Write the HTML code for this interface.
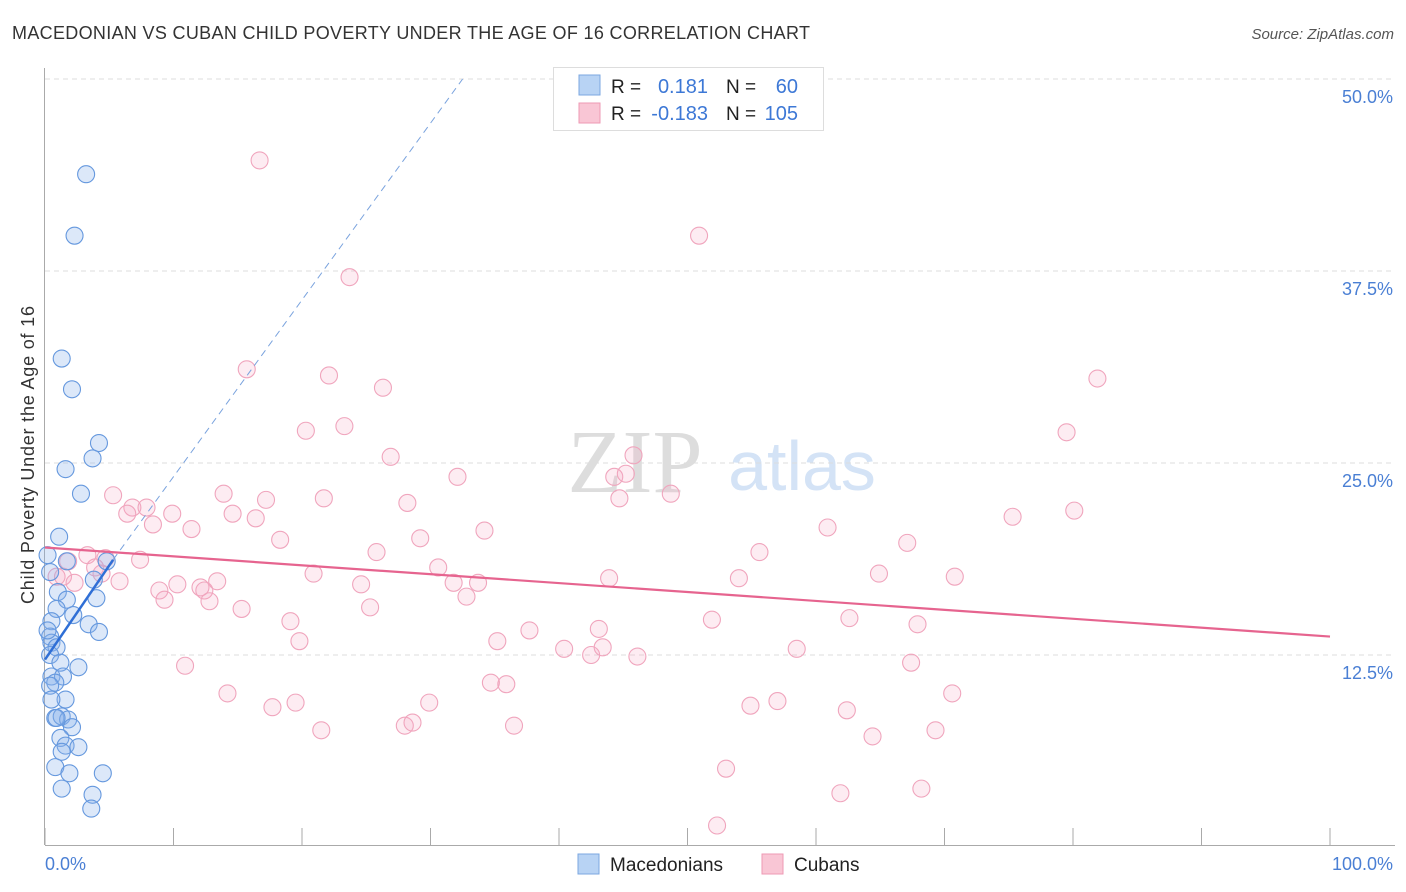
<!DOCTYPE html>
<html><head><meta charset="utf-8"><style>
body{margin:0;background:#fff;font-family:"Liberation Sans",sans-serif;}
svg{display:block}
</style></head><body>
<svg id="chart" width="1406" height="892" xmlns="http://www.w3.org/2000/svg">
<text x="12" y="39" font-size="18" fill="#333" textLength="798">MACEDONIAN VS CUBAN CHILD POVERTY UNDER THE AGE OF 16 CORRELATION CHART</text>
<text x="1394" y="39" font-size="15" fill="#555" font-style="italic" text-anchor="end">Source: ZipAtlas.com</text>
<text x="635" y="492" font-size="90" fill="#ddd" font-family="Liberation Serif,serif" text-anchor="middle">ZIP</text>
<text x="802" y="490" font-size="70" fill="#d4e3f6" text-anchor="middle">atlas</text>
<g id="grid"></g>
<g id="axes"></g>
<g id="points"></g>
<g id="trends"></g>
<text transform="translate(34,455) rotate(-90)" font-size="18" fill="#333" text-anchor="middle" textLength="298">Child Poverty Under the Age of 16</text>
<text x="45" y="870" font-size="18" fill="#4a7fd4">0.0%</text>
<text x="1393" y="870" font-size="18" fill="#4a7fd4" text-anchor="end">100.0%</text>
<g>
<rect x="553.5" y="67.5" width="270" height="63" fill="#fff" stroke="#ddd"/>
<rect x="579" y="75" width="21" height="20" fill="#b8d3f4" stroke="#7ba7e0"/>
<rect x="579" y="103" width="21" height="20" fill="#f9c6d5" stroke="#ee9ab4"/>
<text x="611" y="93" font-size="19" fill="#222">R = </text><text x="708" y="93" font-size="20" fill="#3d78d6" text-anchor="end">0.181</text>
<text x="726" y="93" font-size="19" fill="#222">N = </text><text x="798" y="93" font-size="20" fill="#3d78d6" text-anchor="end">60</text>
<text x="611" y="120" font-size="19" fill="#222">R = </text><text x="708" y="120" font-size="20" fill="#3d78d6" text-anchor="end">-0.183</text>
<text x="726" y="120" font-size="19" fill="#222">N = </text><text x="798" y="120" font-size="20" fill="#3d78d6" text-anchor="end">105</text>
</g>
<g>
<rect x="578" y="854" width="21" height="20" fill="#b8d3f4" stroke="#7ba7e0"/>
<text x="610" y="871" font-size="19" fill="#222">Macedonians</text>
<rect x="762" y="854" width="21" height="20" fill="#f9c6d5" stroke="#ee9ab4"/>
<text x="794" y="871" font-size="19" fill="#222">Cubans</text>
</g>
</svg>
<script>
const yTicks=[12.5,25,37.5,50];
const yTickLabels=["12.5%","25.0%","37.5%","50.0%"];
const xTicks=[0,10,20,30,40,50,60,70,80,90,100];
const macX=[3.2,2.3,1.3,2.1,4.2,3.7,1.6,2.8,1.1,0.2,1.7,4.8,0.4,3.8,1.0,1.7,4.0,0.9,2.2,0.5,3.4,4.2,0.4,0.5,0.9,0.4,1.2,2.6,0.5,1.4,0.8,0.4,1.6,0.5,0.8,1.3,1.8,2.1,1.2,1.6,2.6,1.3,0.8,1.9,4.5,1.3,3.7,3.6,0.9,0.2];
const macY=[43.8,39.8,31.8,29.8,26.3,25.3,24.6,23.0,20.2,19.0,18.6,18.6,17.9,17.4,16.6,16.1,16.2,15.5,15.1,14.7,14.5,14.0,13.7,13.3,13.0,12.5,12.0,11.7,11.1,11.1,10.7,10.5,9.6,9.6,8.4,8.5,8.3,7.8,7.1,6.6,6.5,6.2,5.2,4.8,4.8,3.8,3.4,2.5,8.4,14.1];
const cubX=[16.7,50.9,23.7,15.7,22.1,26.3,81.9,20.3,23.3,79.5,26.9,45.8,32.1,44.3,45.2,5.3,13.9,17.2,21.7,28.2,44.7,48.7,6.8,7.9,6.4,9.9,14.6,16.4,8.4,11.4,34.2,60.9,75.3,80.1,18.3,29.2,67.1,25.8,55.6,3.3,7.4,4.7,1.8,3.9,30.6,20.9,64.9,0.9,1.4,4.4,54.0,70.8,43.9,5.8,2.3,24.6,31.8,33.7,10.3,13.4,8.9,12.1,12.4,32.8,9.3,12.8,25.3,15.3,19.1,51.9,62.6,67.9,43.1,37.7,19.8,35.2,40.4,42.5,43.4,58.5,46.1,10.9,67.4,34.7,35.9,14.2,70.6,19.5,17.7,29.9,57.0,54.9,62.4,21.5,28.0,28.6,36.5,69.3,64.4,53.0,68.2,61.9,52.3];
const cubY=[44.7,39.8,37.1,31.1,30.7,29.9,30.5,27.1,27.4,27.0,25.4,25.5,24.1,24.1,24.3,22.9,23.0,22.6,22.7,22.4,22.7,23.0,22.1,22.1,21.7,21.7,21.7,21.4,21.0,20.7,20.6,20.8,21.5,21.9,20.0,20.1,19.8,19.2,19.2,19.0,18.7,18.8,18.6,18.2,18.2,17.8,17.8,17.6,17.6,17.8,17.5,17.6,17.5,17.3,17.2,17.1,17.2,17.2,17.1,17.3,16.7,16.9,16.7,16.3,16.1,16.0,15.6,15.5,14.7,14.8,14.9,14.5,14.2,14.1,13.4,13.4,12.9,12.5,13.0,12.9,12.4,11.8,12.0,10.7,10.6,10.0,10.0,9.4,9.1,9.4,9.5,9.2,8.9,7.6,7.9,8.1,7.9,7.6,7.2,5.1,3.8,3.5,1.4];
const macTrend=[[0,12.2],[5.3,18.7]];
const macTrendDash=[[5.3,18.7],[32.5,50]];
const cubTrend=[[0,19.5],[100,13.7]];
const NS="http://www.w3.org/2000/svg";
function sx(v){return 45+v*12.85;}
function sy(v){return 847-v*15.36;}
function mk(tag,attrs,parent){const e=document.createElementNS(NS,tag);for(const k in attrs)e.setAttribute(k,attrs[k]);parent.appendChild(e);return e;}
const grid=document.getElementById('grid'),axes=document.getElementById('axes'),pts=document.getElementById('points'),tr=document.getElementById('trends');
yTicks.forEach((t,i)=>{
 const l=mk('line',{x1:45,x2:1395,y1:sy(t),y2:sy(t),stroke:'#ddd','stroke-dasharray':'5,4'},grid);
 
 
 const tx=mk('text',{x:1393,y:sy(t)+24,'font-size':18,fill:'#4a7fd4','text-anchor':'end'},axes);
 tx.textContent=yTickLabels[i];
 
 
});
const ya=mk('line',{x1:44.5,x2:44.5,y1:68,y2:845,stroke:'#aaa'},axes);


const xa=mk('line',{x1:45,x2:1395,y1:845.5,y2:845.5,stroke:'#aaa'},axes);


xTicks.forEach(t=>{
 const l=mk('line',{x1:sx(t),x2:sx(t),y1:828,y2:845,stroke:'#aaa'},axes);
 
 
});
cubX.forEach((x,i)=>{
 const c=mk('circle',{cx:sx(x),cy:sy(cubY[i]),r:8.5,fill:'rgba(246,170,195,0.22)',stroke:'#f0a5bd','stroke-width':1.1},pts);
 
 
});
macX.forEach((x,i)=>{
 const c=mk('circle',{cx:sx(x),cy:sy(macY[i]),r:8.5,fill:'rgba(140,180,235,0.3)',stroke:'#6598de','stroke-width':1.1},pts);
 
 
});
const d=mk('line',{x1:sx(macTrendDash[0][0]),y1:sy(macTrendDash[0][1]),x2:sx(macTrendDash[1][0]),y2:sy(macTrendDash[1][1]),stroke:'#7aa3de','stroke-width':1,'stroke-dasharray':'7,5'},tr);


const m=mk('line',{x1:sx(macTrend[0][0]),y1:sy(macTrend[0][1]),x2:sx(macTrend[1][0]),y2:sy(macTrend[1][1]),stroke:'#2f6fd6','stroke-width':2.5},tr);


const c2=mk('line',{x1:sx(cubTrend[0][0]),y1:sy(cubTrend[0][1]),x2:sx(cubTrend[1][0]),y2:sy(cubTrend[1][1]),stroke:'#e6648f','stroke-width':2.2},tr);


</script>
</body></html>
